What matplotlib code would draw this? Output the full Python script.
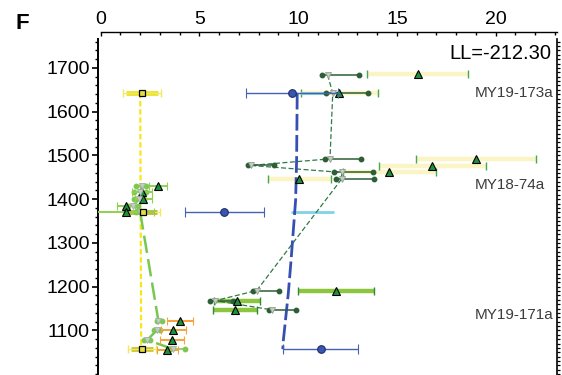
import matplotlib
matplotlib.use('Agg')
import matplotlib.pyplot as plt
from matplotlib.ticker import MultipleLocator, NullFormatter
import numpy as np

plt.rcParams['font.family'] = ['Liberation Sans', 'DejaVu Sans']

# sample labels (depth of each sample block)
sample_names = ['MY19-173a', 'MY18-74a', 'MY19-171a']
sample_y = [1642, 1433, 1135]
ll_text = 'LL=-212.30'
y_ticks = [1100, 1200, 1300, 1400, 1500, 1600, 1700]

# dark green chain: point, low end, high end
dg_x = [11.49, 11.75, 11.61, 7.59, 12.20, 12.20, 7.90, 5.80, 8.66]
dg_y = [1684, 1642, 1492, 1477, 1461, 1446, 1191, 1168, 1147]
dg_lo = [11.19, 11.39, 11.36, 7.47, 11.83, 11.91, 7.73, 5.55, 8.52]
dg_hi = [13.08, 13.55, 13.18, 8.79, 13.80, 13.85, 9.04, 6.70, 9.87]

# pale yellow bands with triangles
py_x = [16.05, 12.08, 18.99, 16.79, 14.61, 10.06]
py_y = [1685, 1642, 1491, 1476, 1461, 1446]
py_hw = [2.57, 1.94, 3.04, 2.70, 2.35, 1.60]

# bright green bands with triangles
gb_x = [11.91, 6.89, 6.80]
gb_y = [1191, 1168, 1147]
gb_hw = [1.94, 1.17, 1.13]

# blue circles and blue trend
bl_x = [9.67, 6.26, 11.15]
bl_y = [1643, 1370, 1057]
bl_hw = [2.33, 2.00, 1.90]
bline_x = [9.95, 9.92, 9.87, 9.64, 9.50, 9.25, 9.22]
bline_y = [1643, 1490, 1398, 1261, 1185, 1078, 1057]

# light blue bars
cy_x = [10.75, 10.72]
cy_y = [1643, 1370]
cy_hw = [0.65, 1.08]

# yellow squares and yellow trend
ys_x = [2.08, 2.12, 2.08]
ys_y = [1643, 1370, 1057]
ys_hw = [0.80, 0.73, 0.55]
ys_col = ['#ebe434', '#c2bb3a', '#cfc83c']
yline_x = [2.00, 2.05]
yline_y = [1643, 1057]

# light green chain: point, low end, high end
lg_x = [2.08, 2.00, 1.95, 1.65, 2.00, 2.92, 2.83, 2.36, 3.68]
lg_y = [1430, 1416, 1400, 1385, 1370, 1122, 1100, 1078, 1057]
lg_lo = [1.77, 1.70, 1.70, 1.40, 1.80, 2.85, 2.70, 2.20, 3.50]
lg_hi = [2.30, 2.30, 2.20, 1.90, 2.20, 3.09, 3.00, 2.50, 4.27]

# triangles with light green bars
lt_x = [2.89, 2.10, 2.16, 1.28, 1.27]
lt_y = [1430, 1416, 1400, 1385, 1370]
lt_hw = [0.46, 0.50, 0.42, 0.45, 1.45]

# triangles with orange bars
or_x = [4.03, 3.68, 3.61, 3.36]
or_y = [1122, 1100, 1078, 1055]
or_hw = [0.66, 0.63, 0.59, 0.53]

fig = plt.figure(figsize=(5.62, 3.75), dpi=100)
ax = fig.add_axes([98 / 562, 0, 458.7 / 562, 336 / 375])
ax.set_xlim(-0.137, 23.09)
ax.set_ylim(998, 1766)

tri = dict(marker='^', ms=6, mfc='#1f8f3f', mec='black', mew=0.8, ls='none')


def band(x, y, hw, color, lw, capcolor, z):
    x, y, hw = np.asarray(x), np.asarray(y), np.asarray(hw)
    ax.hlines(y, x - hw, x + hw, color=color, lw=lw, zorder=z)
    ax.plot(np.r_[x - hw, x + hw], np.r_[y, y], ls='none', marker='|',
            ms=5.5, mew=1, color=capcolor, zorder=z + 0.1)


# wide bands
band(py_x, py_y, py_hw, '#fbf4c4', 3.2, '#46a84f', 1)
band(gb_x, gb_y, gb_hw, '#8cc63f', 3.2, '#2f8a3a', 1)
ax.hlines(cy_y, np.subtract(cy_x, cy_hw), np.add(cy_x, cy_hw),
          color='#7fd3e6', lw=2, zorder=1.5)
for x, y, hw, c in zip(ys_x, ys_y, ys_hw, ys_col):
    ax.hlines(y, x - hw, x + hw, color=c, lw=3.5, zorder=1.5)

# trend lines
ax.plot(yline_x, yline_y, color='#f6e61a', lw=1.6, dashes=(2.4, 1.3), zorder=2)
ax.plot(bline_x, bline_y, color='#3550b2', lw=2, dashes=(6, 1.6), zorder=2.5)
ax.plot(lg_x[:5], lg_y[:5], color='#78c850', lw=1.6, dashes=(4, 2), zorder=2)
ax.plot(lg_x[4:], lg_y[4:], color='#78c850', lw=1.8, dashes=(7, 2.5), zorder=2)
ax.plot(dg_x, dg_y, color='#2f7a45', lw=0.9, dashes=(4, 2), zorder=2)

# chain ranges
ax.hlines(dg_y, dg_lo, dg_hi, color='#2d5e36', lw=1.1, zorder=3)
ax.plot(np.r_[dg_lo, dg_hi], np.r_[dg_y, dg_y], ls='none', marker='o', ms=3.2,
        color='#2d5e36', zorder=3.1)
ax.hlines(lg_y, lg_lo, lg_hi, color='#7cc850', lw=1.1, zorder=3)
ax.plot(np.r_[lg_lo, lg_hi], np.r_[lg_y, lg_y], ls='none', marker='o', ms=3.2,
        color='#7cc850', zorder=3.1)

# error bars with triangles
ax.errorbar(lt_x, lt_y, xerr=lt_hw, ecolor='#8fd14f', elinewidth=1.4,
            capsize=3, capthick=1, zorder=3.5, **tri)
ax.errorbar(or_x, or_y, xerr=or_hw, ecolor='#f7a23a', elinewidth=1.4,
            capsize=3, capthick=1, zorder=3.5, **tri)
ax.plot(py_x, py_y, zorder=4, **tri)
ax.plot(gb_x, gb_y, zorder=4, **tri)

# blue circles
ax.errorbar(bl_x, bl_y, xerr=bl_hw, fmt='o', ms=5.5, mfc='#3a56b0', mec='#1e2c6a',
            mew=0.8, ecolor='#4362b4', elinewidth=1, capsize=3.5, capthick=1, zorder=4)

# yellow squares
ax.errorbar(ys_x, ys_y, xerr=np.add(ys_hw, 0.15), fmt='none', ecolor='#f2ea5a',
            elinewidth=0.8, capsize=3, capthick=1, zorder=3)
ax.plot(ys_x, ys_y, ls='none', marker='s', ms=4.5, mfc='#e6dc48', mec='black',
        mew=0.9, zorder=4)

# chain point markers
ax.plot(dg_x, dg_y, ls='none', marker='v', ms=4, mfc='#c3cdc3', mec='#90a090',
        mew=0.6, zorder=3.6)
ax.plot(lg_x, lg_y, ls='none', marker='v', ms=4, mfc='#c3cdc3', mec='#a0b0a0',
        mew=0.6, zorder=3.6)

# text
for name, y in zip(sample_names, sample_y):
    ax.text(18.95, y, name, fontsize=11, color='#3c3c3c', ha='left', va='center')
ax.text(22.84, 1720, ll_text, fontsize=14.5, color='black', ha='right', va='baseline')
fig.text(0.027, 0.937, 'F', fontsize=16, fontweight='bold', va='center')

# spines and ticks
ax.spines['bottom'].set_visible(False)
ax.spines['right'].set_visible(False)
ax.spines['left'].set_linewidth(1.4)
ax.spines['top'].set_linewidth(1.0)
ax.spines['top'].set_position(('outward', 5))
ax.spines['top'].set_bounds(0, 23.09)

ax.xaxis.set_major_locator(MultipleLocator(5))
ax.xaxis.set_minor_locator(MultipleLocator(1))
ax.tick_params(axis='x', which='both', bottom=False, labelbottom=False,
               top=True, labeltop=True, direction='in', labelsize=14, pad=3)
ax.tick_params(axis='x', which='major', length=3, width=1)
ax.tick_params(axis='x', which='minor', length=2, width=1)

ax.set_yticks(y_ticks)
ax.yaxis.set_minor_locator(MultipleLocator(20))
ax.tick_params(axis='y', which='both', direction='out', labelsize=14, pad=2)
ax.tick_params(axis='y', which='major', length=4, width=1.2)
ax.tick_params(axis='y', which='minor', length=2.5, width=1)

sec = ax.secondary_yaxis('right')
sec.spines['right'].set_linewidth(1.2)
sec.yaxis.set_major_locator(MultipleLocator(10))
sec.yaxis.set_major_formatter(NullFormatter())
sec.tick_params(axis='y', direction='out', length=2.5, width=0.9)

fig.savefig('out.png', dpi=100)
